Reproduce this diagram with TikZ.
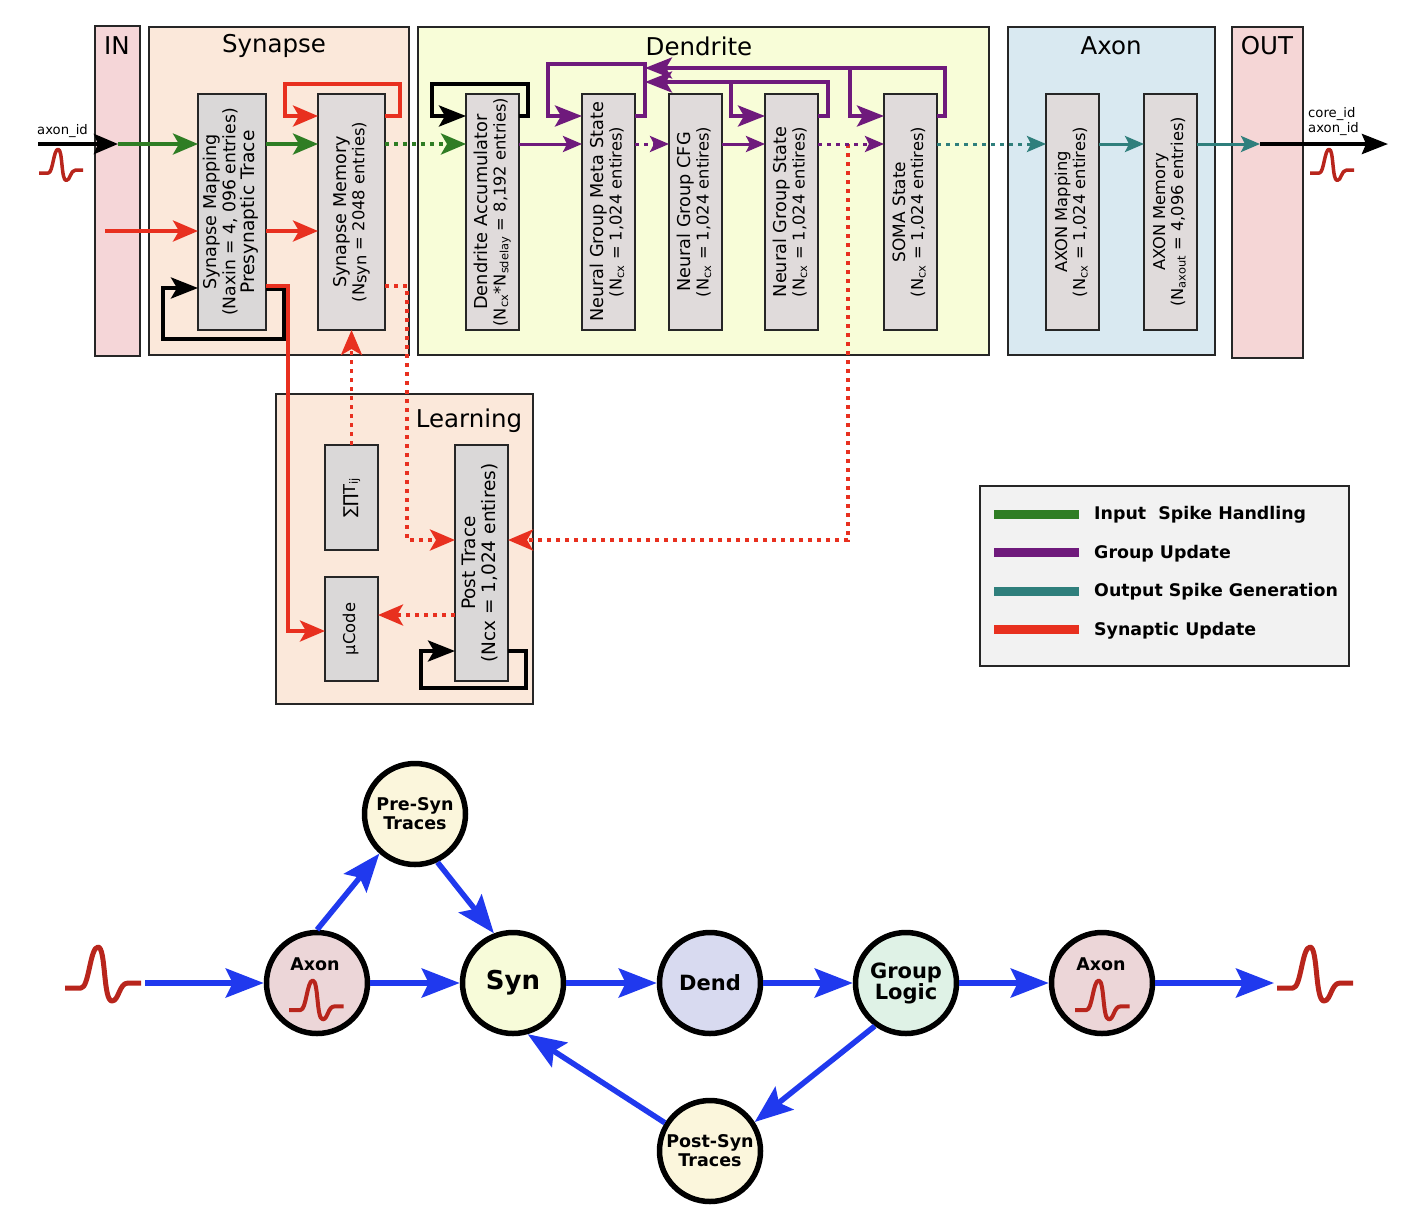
\documentclass[tikz,border=0pt]{standalone}
\usepackage{fontspec}
\setmainfont{DejaVu Sans}
\usetikzlibrary{arrows.meta}
\usetikzlibrary{calc}
\usetikzlibrary{positioning}

\definecolor{spikegreen}{HTML}{2F7D24}
\definecolor{grouppurple}{HTML}{6F1A7C}
\definecolor{outteal}{HTML}{2F7F7C}
\definecolor{synred}{HTML}{E8301F}
\definecolor{pulsered}{HTML}{B8251C}
\definecolor{netblue}{HTML}{2039EE}
\definecolor{axonfill}{HTML}{ECD6D8}
\definecolor{synfill}{HTML}{F7FBD9}
\definecolor{dendfill}{HTML}{D8DAF0}
\definecolor{logicfill}{HTML}{DFF2E6}
\definecolor{tracefill}{HTML}{FBF6DC}
\definecolor{cellfill}{HTML}{E0DBDB}
\definecolor{cellgrey}{HTML}{DAD8D8}

\newcommand{\vlabel}[1]{\rotatebox{90}{\begin{tabular}{@{}c@{}}#1\end{tabular}}}
\newcommand{\cxsub}{N\textsubscript{cx}}
\newcommand{\sz}[2]{{\fontsize{#1}{18}\selectfont #2}}

\tikzset{
  stage/.style={draw=black!85,line width=2pt,inner sep=0pt},
  stagetitle/.style={font=\fontsize{24.5}{30}\selectfont,inner sep=0pt},
  cell/.style={draw=black!85,line width=2pt,fill=#1,inner sep=0pt,outer sep=0pt,font=\fontsize{16.3}{18}\selectfont},
  cell/.default={cellfill},
  flow/.style={line width=#1,line join=miter,-{Stealth[length=25pt,width=21pt,inset=6pt]}},
  flow/.default={3.8pt},
  thinflow/.style={line width=3pt,-{Stealth[length=19pt,width=16pt,inset=4pt]}},
  loopflow/.style={line width=4pt,line join=miter,-{Stealth[length=27pt,width=21pt,inset=6pt]}},
  dots/.style={dash pattern=on 4pt off 5pt},
  pulseline/.style={color=pulsered,line join=round},
  idlabel/.style={font=\fontsize{13.2}{15}\selectfont,inner sep=0pt},
  net/.style={draw=black,line width=5.5pt,circle,minimum size=101pt,inner sep=0pt,fill=#1,font=\bfseries\fontsize{21}{21}\selectfont,align=center},
  nettrace/.style={font=\bfseries\fontsize{17.5}{19}\selectfont},
  nettext/.style={font=\bfseries\fontsize{17.5}{18}\selectfont,inner sep=0pt},
  netarrow/.style={netblue,line width=5.5pt,-{Stealth[length=38pt,width=29pt,inset=7pt]}},
  legendtext/.style={anchor=west,inner sep=0pt,font=\bfseries\fontsize{17.4}{20}\selectfont},
  legendbar/.style={line width=9pt},
  pulse/.pic={
    \draw[pulseline] (0,0) -- (16,0) .. controls (24,0) and (25,-41) .. (33,-41)
      .. controls (41,-41) and (38,13) .. (47,13)
      .. controls (54,13) and (54,-5) .. (63,-5) -- (76,-5);
  }
}

\begin{document}
\begin{tikzpicture}[x=1pt,y=-1pt]
  \useasboundingbox (0,0) rectangle (1410,1224);

  % stages
  \foreach \name/\x/\y/\wid/\hgt/\col in {in/117.5/191/45/330/F5D6D8,syn/279/191/260/328/FBE8DA,dend/703.5/191/571/328/F8FDD8,axon/1111.5/191/207/328/D9E9F1,out/1267.5/192.5/71/331/F5D6D6,learn/404.5/549/257/310/FBE8DA}
  {
    \definecolor{stagefill}{HTML}{\col}
    \node[stage,fill=stagefill,minimum width=\wid,minimum height=\hgt] (\name) at (\x,\y) {};
  }
  \foreach \name/\x/\y/\lbl in {intitle/117/46/IN,syntitle/274/46/Synapse,dendtitle/699/46/Dendrite,axontitle/1111/46/Axon,outtitle/1267/46/OUT,learntitle/469/421/Learning}
  \node[stagetitle] (\name) at (\x,\y) {\lbl};

  \coordinate (spikeline) at (0,144);
  \coordinate (preline) at (0,231);
  \coordinate (loopline) at (0,116);
  \coordinate (mixline) at (0,286);
  \coordinate (inport) at (118,144);
  \coordinate (outport) at (1260,144);
  \coordinate (inbegin) at (38,144);
  \coordinate (outend) at (1388,144);
  \coordinate (prebegin) at (105,231);

  % memory cells of the pipeline
  \node[cell=cellgrey,minimum width=68,minimum height=236] (smap) at (232,212) {\vlabel{\sz{17.6}{Synapse Mapping}\\\sz{17.2}{(Naxin = 4, 096 entries)}\\\sz{18.6}{Presynaptic Trace}}};
  \foreach \name/\x/\wid/\lbl in {
    smem/351.5/67/{\sz{17.6}{Synapse Memory}\\(N\raisebox{-2pt}{syn} = 2048 entries)},
    dacc/492.5/53/{\sz{17.8}{Dendrite Accumulator}\\(\cxsub*N\textsubscript{sdelay} = 8,192 entries)},
    ngmeta/608.5/53/{\sz{17.7}{Neural Group Meta State}\\(\cxsub{} = 1,024 entires)},
    ngcfg/695.5/53/{\sz{17.7}{Neural Group CFG}\\(\cxsub{} = 1,024 entires)},
    ngstate/791.5/53/{\sz{17.7}{Neural Group State}\\(\cxsub{} = 1,024 entires)},
    soma/910.5/53/{\sz{17}{SOMA State}\\(\cxsub{} = 1,024 entires)},
    axmap/1072.5/53/{AXON Mapping\\(\cxsub{} = 1,024 entires)},
    axmem/1170.5/53/{AXON Memory\\(N\textsubscript{axout} = 4,096 entries)}}
  \node[cell,minimum width=\wid,minimum height=236] (\name) at (\x,212) {\vlabel{\lbl}};

  % learning cells
  \node[cell=cellgrey,minimum width=53,minimum height=105] (sumprod) at (351.5,497.5) {\vlabel{∑∏T\textsubscript{ij}}};
  \node[cell=cellgrey,minimum width=53,minimum height=104] (ucode) at (351.5,629) {\vlabel{µCode}};
  \node[cell=cellgrey,minimum width=53,minimum height=236] (post) at (481.5,563) {\vlabel{\sz{18.5}{Post Trace}\\\sz{18.5}{(Ncx = 1,024 entires)}}};

  % in and out
  \draw[line width=4pt,-{Stealth[length=24pt,width=20pt,inset=4pt]}] (inbegin) -- (inport);
  \draw[line width=4pt,-{Stealth[length=26pt,width=20pt,inset=4pt]}] (outport) -- (outend);
  \node[idlabel] (axonid) at (62.5,131) {axon\_id};
  \node[idlabel,anchor=west] (coreid) at (1308,114) {core\_id};
  \node[idlabel,anchor=west] (axonidout) at (1308,129.5) {axon\_id};
  \pic[line width=3.5pt,scale=.58] (pulsein) at (39,173) {pulse};
  \pic[line width=3.5pt,scale=.58] (pulseout) at (1310,173) {pulse};

  % housekeeping loops
  \draw[loopflow] (smap.east |- 0,289) -- ++(18,0) -- ++(0,50) -- ++(-121,0) -- ++(0,-51) -- (smap.west |- 0,288);
  \draw[loopflow] (dacc.east |- loopline) -- ++(9,0) -- ++(0,-32) -- ++(-96,0) -- ++(0,32) -- (dacc.west |- loopline);
  \draw[loopflow] (post.east |- 0,651) -- ++(18,0) -- ++(0,37) -- ++(-105,0) -- ++(0,-37) -- (post.west |- 0,651);

  % input spike handling
  \draw[flow,spikegreen] (inport) -- (smap.west |- spikeline);
  \draw[flow,spikegreen] (smap.east |- spikeline) -- (smem.west |- spikeline);
  \draw[flow,spikegreen,dots] (smem.east |- spikeline) -- (dacc.west |- spikeline);

  % synaptic update
  \draw[flow,synred] (prebegin) -- (smap.west |- preline);
  \draw[flow,synred] (smap.east |- preline) -- (smem.west |- preline);
  \draw[flow,synred] (smem.east |- loopline) -- ++(15,0) -- ++(0,-32) -| ($(smem.west |- loopline)+(-33,0)$) -- (smem.west |- loopline);
  \draw[flow,synred] (smap.east |- mixline) -| ($(ucode.west)+(-37,0)$) |- (ucode.west |- 0,631);
  \draw[flow,synred,dots] (sumprod.north) -- (smem.south);
  \draw[flow,synred,dots] (smem.east |- mixline) -| (407,540) -- (post.west |- 0,540);
  \draw[flow,synred,dots] (848,144) -- (848,540) -- (post.east |- 0,540);
  \draw[flow,synred,dots] (post.west |- 0,615) -- (ucode.east |- 0,615);

  % group update
  \foreach \a/\b in {dacc/ngmeta,ngcfg/ngstate}
  \draw[thinflow,grouppurple] (\a.east |- spikeline) -- (\b.west |- spikeline);
  \foreach \a/\b in {ngmeta/ngcfg,ngstate/soma}
  \draw[thinflow,grouppurple,dots] (\a.east |- spikeline) -- (\b.west |- spikeline);
  \draw[loopflow,grouppurple] (ngmeta.east |- loopline) -- ++(10,0) -- ++(0,-52) -- ++(-97,0) -- ++(0,52) -- (ngmeta.west |- loopline);
  \draw[loopflow,grouppurple] (ngstate.east |- loopline) -- ++(10,0) -- ++(0,-34) -- (645,82);
  \draw[loopflow,grouppurple] (731,82) -- (731,116) -- (ngstate.west |- loopline);
  \draw[loopflow,grouppurple] (soma.east |- loopline) -- ++(8,0) -- ++(0,-48) -- (645,68);
  \draw[loopflow,grouppurple] (850,68) -- (850,116) -- (soma.west |- loopline);

  % output spike generation
  \draw[thinflow,outteal,dots] (soma.east |- spikeline) -- (axmap.west |- spikeline);
  \draw[thinflow,outteal] (axmap.east |- spikeline) -- (axmem.west |- spikeline);
  \draw[thinflow,outteal] (axmem.east |- spikeline) -- (outport);

  % legend
  \node[draw=black!85,line width=2pt,fill=black!5,minimum width=369,minimum height=180,inner sep=0pt] (legend) at (1164.5,576) {};
  \foreach \name/\y/\col/\lbl in {lgreen/514/spikegreen/{Input\ \ Spike Handling},lpurple/552.5/grouppurple/{Group Update},lteal/591/outteal/{Output Spike Generation},lred/629.5/synred/{Synaptic Update}}
  {
    \node[legendtext] (\name) at (1094,\y+1) {\lbl};
    \draw[legendbar,\col] (994,\y) -- (1079,\y);
  }

  % network below
  \node[net=axonfill] (axa) at (317,983) {};
  \node[net=synfill,font=\bfseries\fontsize{26}{26}\selectfont] (syncore) at (513,983) {\raisebox{-2pt}{Syn}};
  \node[net=dendfill] (dendcore) at (710,983) {\raisebox{-2pt}{Dend}};
  \node[net=logicfill] (logic) at (906,983) {\raisebox{-1pt}{Group}\\\raisebox{-1pt}{Logic}};
  \node[net=axonfill] (axb) at (1102,983) {};
  \node[net=tracefill,nettrace] (pretrace) at (415,814) {\raisebox{-2pt}{Pre-Syn}\\\raisebox{-2pt}{Traces}};
  \node[net=tracefill,nettrace] (posttrace) at (710,1151) {Post-Syn\\Traces};
  \node[nettext] (axatext) at (315,964) {Axon};
  \node[nettext] (axbtext) at (1101,964) {Axon};
  \pic[line width=4pt,scale=.72] (pulsea) at (289,1010) {pulse};
  \pic[line width=4pt,scale=.72] (pulseb) at (1075,1010) {pulse};
  \pic[line width=5pt] (pulsebegin) at (65,988) {pulse};
  \pic[line width=5pt] (pulseend) at (1277,988) {pulse};

  \coordinate (netbegin) at (145,983);
  \coordinate (netend) at (1274,983);
  \draw[netarrow] (netbegin) -- (axa);
  \foreach \a/\b in {axa/syncore,syncore/dendcore,dendcore/logic,logic/axb}
  \draw[netarrow] (\a) -- (\b);
  \draw[netarrow] (axb) -- (netend);
  \draw[netarrow] (axa.90) -- (pretrace.228);
  \draw[netarrow] (pretrace.295) -- (syncore.111);
  \draw[netarrow] (logic.234) -- (posttrace.33);
  \draw[netarrow] (posttrace.148) -- (syncore.286);
\end{tikzpicture}
\end{document}
